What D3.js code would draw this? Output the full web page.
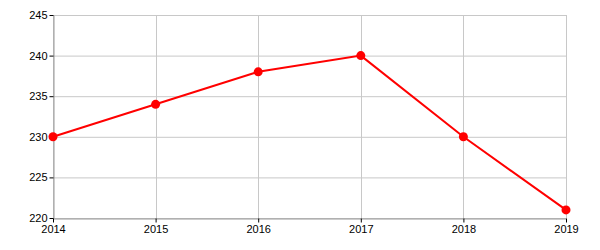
<!DOCTYPE html>
<html><head><meta charset="utf-8">
<script src="https://cdn.jsdelivr.net/npm/d3@7"></script>
<style>body{margin:0;background:#fff}svg{display:block}text{font-family:"Liberation Sans",Arial,sans-serif;font-size:11px;fill:#000}</style>
</head><body>
<svg id="c" width="600" height="250"></svg>
<script>
const years = [2014, 2015, 2016, 2017, 2018, 2019];
const values = [230, 234, 238, 240, 230, 221];
const yTicks = [220, 225, 230, 235, 240, 245];

const m = {left: 53, right: 34, top: 15, bottom: 32};
const W = 600, H = 250;
const svg = d3.select("#c");
const x = d3.scaleLinear().domain([2014, 2019]).range([m.left, W - m.right]);
const y = d3.scaleLinear().domain([220, 245]).range([H - m.bottom, m.top]);

// grid
svg.append("g").selectAll("line").data(yTicks).join("line")
  .attr("x1", m.left).attr("x2", W - m.right)
  .attr("y1", d => y(d) + 0.5).attr("y2", d => y(d) + 0.5)
  .attr("stroke", "#c8c8c8").attr("stroke-width", 1);
svg.append("g").selectAll("line").data(years).join("line")
  .attr("y1", m.top).attr("y2", H - m.bottom)
  .attr("x1", d => Math.round(x(d)) + 0.5).attr("x2", d => Math.round(x(d)) + 0.5)
  .attr("stroke", "#c8c8c8").attr("stroke-width", 1);

// axes
const ax = svg.append("g").attr("transform", `translate(0,${H - m.bottom + 0.5})`)
  .call(d3.axisBottom(x).tickValues(years).tickFormat(d3.format("d")).tickSize(4).tickPadding(3).tickSizeOuter(0));
const ay = svg.append("g").attr("transform", `translate(${m.left + 0.5},0)`)
  .call(d3.axisLeft(y).tickValues(yTicks).tickSize(4).tickPadding(2).tickSizeOuter(0));
[ax, ay].forEach(a => {
  a.select(".domain").attr("stroke", "#999");
  a.selectAll(".tick line").attr("stroke", "#000");
  a.selectAll("text").style("font-family", '"Liberation Sans",Arial,sans-serif').style("font-size", "11px").attr("fill", "#000");
});

const data = years.map((d, i) => ({x: d, y: values[i]}));
svg.append("path").datum(data)
  .attr("fill", "none").attr("stroke", "#ff0000").attr("stroke-width", 2)
  .attr("d", d3.line().x(d => x(d.x)).y(d => y(d.y)));
svg.append("g").selectAll("circle").data(data).join("circle")
  .attr("cx", d => x(d.x)).attr("cy", d => y(d.y)).attr("r", 4.5).attr("fill", "#ff0000");
</script>
</body></html>
